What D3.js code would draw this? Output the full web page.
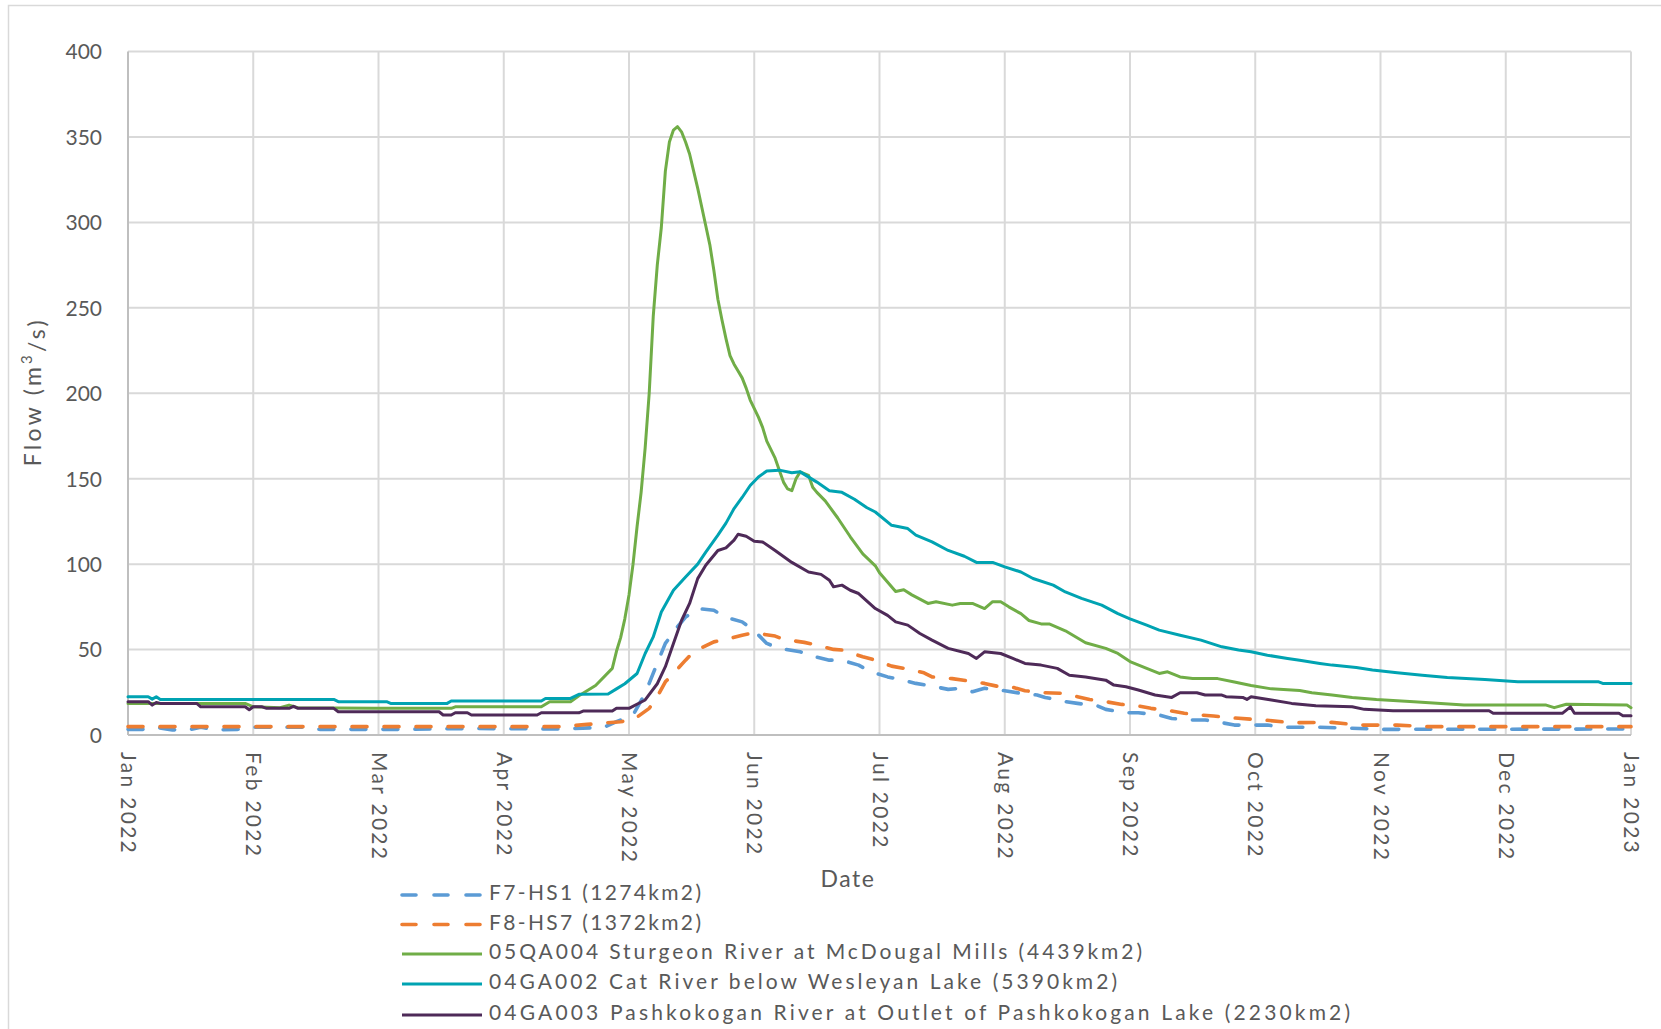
<!DOCTYPE html>
<html>
<head>
<meta charset="utf-8">
<script src="https://cdn.jsdelivr.net/npm/d3@7"></script>
<style>
  html, body { margin: 0; padding: 0; background: #fff; }
  svg { display: block; font-family: Lato, "Open Sans", sans-serif; }
</style>
</head>
<body>
<svg id="chart" width="1661" height="1029"></svg>
<script>
// ---------- DATA ----------
const monthLabels = ["Jan 2022","Feb 2022","Mar 2022","Apr 2022","May 2022","Jun 2022","Jul 2022",
                     "Aug 2022","Sep 2022","Oct 2022","Nov 2022","Dec 2022","Jan 2023"];
const monthStarts = ["2022-01-01","2022-02-01","2022-03-01","2022-04-01","2022-05-01","2022-06-01","2022-07-01",
                     "2022-08-01","2022-09-01","2022-10-01","2022-11-01","2022-12-01","2023-01-01"];
const yTicks = [0, 50, 100, 150, 200, 250, 300, 350, 400];

const seriesNames = [
  "F7-HS1 (1274km2)",
  "F8-HS7 (1372km2)",
  "05QA004 Sturgeon River at McDougal Mills (4439km2)",
  "04GA002 Cat River below Wesleyan Lake (5390km2)",
  "04GA003 Pashkokogan River at Outlet of Pashkokogan Lake (2230km2)"
];

const f7HS1 = [["2022-01-01",3.3],["2022-01-05",3.3],["2022-01-08",4.5],["2022-01-12",3],["2022-01-16",3],["2022-01-19",4.5],["2022-01-23",3],["2022-01-28",3.3],["2022-02-01",4.5],["2022-02-12",4.5],["2022-02-16",3.3],["2022-02-24",3.3],["2022-03-05",3.3],["2022-03-25",3.8],["2022-04-15",3.5],["2022-04-25",4.5],["2022-04-28",7.8],["2022-05-02",11.7],["2022-05-05",24.4],["2022-05-08",42],["2022-05-10",53.6],["2022-05-13",63.3],["2022-05-15",69],["2022-05-18",74],["2022-05-22",73],["2022-05-25",68.8],["2022-05-29",66.2],["2022-06-01",61],["2022-06-04",53.6],["2022-06-07",50.7],["2022-06-12",48.7],["2022-06-14",46.7],["2022-06-19",43.8],["2022-06-22",43.8],["2022-06-26",40.9],["2022-06-29",37],["2022-07-03",34],["2022-07-06",32.5],["2022-07-10",30.2],["2022-07-14",28.6],["2022-07-18",26.7],["2022-07-21",27.3],["2022-07-24",25.3],["2022-07-27",27.3],["2022-08-01",25.9],["2022-08-05",24.4],["2022-08-09",23.4],["2022-08-11",22],["2022-08-16",19.5],["2022-08-19",18.5],["2022-08-24",17],["2022-08-26",15],["2022-08-31",13],["2022-09-03",13],["2022-09-08",11.7],["2022-09-11",9.7],["2022-09-15",8.8],["2022-09-19",8.8],["2022-09-23",7.2],["2022-09-26",5.8],["2022-10-04",5.8],["2022-10-08",4.5],["2022-10-17",4.5],["2022-11-02",3.3],["2022-12-31",3.5],["2023-01-01",3.5]];

const f8HS7 = [["2022-01-01",4.9],["2022-04-15",4.9],["2022-04-21",6.2],["2022-04-29",7.8],["2022-05-02",8.8],["2022-05-06",15.6],["2022-05-08",22.4],["2022-05-10",31.1],["2022-05-12",36],["2022-05-15",43.8],["2022-05-17",48.7],["2022-05-22",54.5],["2022-05-25",55.9],["2022-05-29",58.4],["2022-06-01",59.8],["2022-06-06",57.9],["2022-06-08",56],["2022-06-13",54.2],["2022-06-15",53.2],["2022-06-20",50.1],["2022-06-22",49.7],["2022-06-27",45.8],["2022-06-30",43.8],["2022-07-04",40.3],["2022-07-07",39],["2022-07-12",36.4],["2022-07-14",34],["2022-07-19",33],["2022-07-23",31.7],["2022-07-27",30.2],["2022-07-30",28.6],["2022-08-03",27.9],["2022-08-06",25.9],["2022-08-11",24.7],["2022-08-15",24.4],["2022-08-19",22.4],["2022-08-22",20.8],["2022-08-26",19.5],["2022-08-30",17.9],["2022-09-03",17],["2022-09-06",15.6],["2022-09-11",14],["2022-09-14",12.7],["2022-09-18",11.7],["2022-09-21",11.1],["2022-09-25",10.1],["2022-10-03",8.8],["2022-10-10",7.2],["2022-10-20",7.4],["2022-10-27",5.8],["2022-11-05",5.8],["2022-11-12",4.9],["2023-01-01",4.9]];

const sturgeon05QA004 = [["2022-01-01",18.5],["2022-01-30",18.5],["2022-02-01",16.5],["2022-02-07",16],["2022-02-09",17.5],["2022-02-11",16],["2022-02-28",15.6],["2022-03-19",15.6],["2022-03-20",16.5],["2022-04-10",16.5],["2022-04-12",19.5],["2022-04-17",19.5],["2022-04-19",23],["2022-04-23",29],["2022-04-27",39],["2022-04-28",49],["2022-04-29",57],["2022-04-30",68],["2022-05-01",82],["2022-05-02",100],["2022-05-03",122],["2022-05-04",142],["2022-05-05",168],["2022-05-06",200],["2022-05-07",245],["2022-05-08",275],["2022-05-09",297],["2022-05-10",330],["2022-05-11",347],["2022-05-12",354],["2022-05-13",356],["2022-05-14",353],["2022-05-15",347],["2022-05-16",340],["2022-05-17",330],["2022-05-18",320],["2022-05-19",309],["2022-05-20",298],["2022-05-21",287],["2022-05-22",272],["2022-05-23",255],["2022-05-24",243],["2022-05-25",232],["2022-05-26",222],["2022-05-27",217],["2022-05-28",213],["2022-05-29",209],["2022-05-30",203],["2022-05-31",196],["2022-06-02",186],["2022-06-03",180],["2022-06-04",172],["2022-06-06",162],["2022-06-07",155],["2022-06-08",148],["2022-06-09",144],["2022-06-10",143],["2022-06-11",150],["2022-06-12",154],["2022-06-14",152],["2022-06-15",145],["2022-06-16",142],["2022-06-18",137],["2022-06-21",127],["2022-06-24",116],["2022-06-27",106],["2022-06-30",99],["2022-07-01",95],["2022-07-05",84],["2022-07-07",85],["2022-07-09",82],["2022-07-13",77],["2022-07-15",78],["2022-07-19",76],["2022-07-21",77],["2022-07-24",77],["2022-07-27",74],["2022-07-29",78],["2022-07-31",78],["2022-08-02",75],["2022-08-05",71],["2022-08-07",67],["2022-08-10",65],["2022-08-12",65],["2022-08-16",61],["2022-08-21",54],["2022-08-26",50.7],["2022-08-29",47.7],["2022-09-01",43],["2022-09-05",39],["2022-09-08",36],["2022-09-10",37],["2022-09-13",34],["2022-09-16",33],["2022-09-22",33],["2022-09-26",31],["2022-09-30",29],["2022-10-05",27],["2022-10-12",26],["2022-10-15",24.7],["2022-10-20",23.4],["2022-10-25",22],["2022-10-31",20.8],["2022-11-09",19.5],["2022-11-21",17.5],["2022-12-11",17.5],["2022-12-13",16],["2022-12-16",18],["2022-12-31",17.5],["2023-01-01",16]];

const cat04GA002 = [["2022-01-01",22.4],["2022-01-06",22.4],["2022-01-07",21],["2022-01-08",22.4],["2022-01-09",20.8],["2022-02-19",20.8],["2022-02-20",19.5],["2022-03-03",19.5],["2022-03-04",18.5],["2022-03-18",18.5],["2022-03-19",19.9],["2022-04-10",19.9],["2022-04-11",21.4],["2022-04-17",21.4],["2022-04-19",23.8],["2022-04-26",24],["2022-04-28",27],["2022-04-30",30],["2022-05-03",36],["2022-05-05",47.7],["2022-05-07",57.4],["2022-05-09",72],["2022-05-12",84.7],["2022-05-15",92.5],["2022-05-18",100],["2022-05-20",107],["2022-05-23",117],["2022-05-25",124],["2022-05-27",132.5],["2022-05-29",139],["2022-05-31",146],["2022-06-02",151],["2022-06-04",154.5],["2022-06-07",155],["2022-06-10",153.5],["2022-06-12",154],["2022-06-16",148],["2022-06-19",143],["2022-06-22",142],["2022-06-25",138],["2022-06-28",133],["2022-06-30",130.5],["2022-07-04",122.7],["2022-07-08",120.8],["2022-07-10",117],["2022-07-14",113],["2022-07-18",108],["2022-07-22",104.6],["2022-07-25",101],["2022-07-29",101],["2022-08-01",98.4],["2022-08-05",95.4],["2022-08-08",91.6],["2022-08-13",87.7],["2022-08-16",83.7],["2022-08-20",80],["2022-08-25",76],["2022-08-29",71],["2022-09-01",68],["2022-09-05",64.3],["2022-09-08",61.4],["2022-09-13",58.4],["2022-09-18",55.5],["2022-09-23",51.6],["2022-09-27",49.7],["2022-09-30",48.7],["2022-10-04",46.7],["2022-10-09",44.8],["2022-10-12",43.8],["2022-10-17",41.9],["2022-10-20",40.9],["2022-10-26",39.5],["2022-10-30",38],["2022-11-05",36.4],["2022-11-11",35],["2022-11-17",33.7],["2022-11-26",32.5],["2022-12-04",31.1],["2022-12-24",31.1],["2022-12-25",30.2],["2023-01-01",30.2]];

const pashkokogan04GA003 = [["2022-01-01",19.5],["2022-01-06",19.5],["2022-01-07",17.5],["2022-01-08",19],["2022-01-09",18.5],["2022-01-18",18.5],["2022-01-19",16.5],["2022-01-30",16.5],["2022-01-31",14.8],["2022-02-01",16.5],["2022-02-03",16.5],["2022-02-04",15.6],["2022-02-09",15.6],["2022-02-10",16.8],["2022-02-11",15.6],["2022-02-19",15.6],["2022-02-20",13.6],["2022-03-16",13.6],["2022-03-17",11.7],["2022-03-19",11.7],["2022-03-20",13],["2022-03-23",13],["2022-03-24",11.7],["2022-04-09",11.7],["2022-04-10",13],["2022-04-19",13],["2022-04-20",14],["2022-04-27",14],["2022-04-28",15.6],["2022-05-01",15.6],["2022-05-05",20.5],["2022-05-08",30],["2022-05-10",40],["2022-05-12",53.6],["2022-05-14",67],["2022-05-16",77],["2022-05-18",91.5],["2022-05-20",99.3],["2022-05-23",108],["2022-05-25",109.5],["2022-05-27",114],["2022-05-28",117.5],["2022-05-30",116.3],["2022-06-01",113.4],["2022-06-03",113],["2022-06-06",108],["2022-06-10",101],["2022-06-14",95.4],["2022-06-17",94],["2022-06-19",90.6],["2022-06-20",86.7],["2022-06-22",87.7],["2022-06-24",84.7],["2022-06-26",82.8],["2022-06-30",74],["2022-07-03",70],["2022-07-05",66.2],["2022-07-08",64.3],["2022-07-11",59.4],["2022-07-14",55.5],["2022-07-18",50.7],["2022-07-23",47.7],["2022-07-25",44.8],["2022-07-27",48.7],["2022-07-31",47.7],["2022-08-03",44.8],["2022-08-06",41.9],["2022-08-10",40.9],["2022-08-14",39],["2022-08-17",35],["2022-08-21",34],["2022-08-26",32.1],["2022-08-28",29.2],["2022-08-31",28.2],["2022-09-03",26.3],["2022-09-07",23.4],["2022-09-11",22],["2022-09-13",24.7],["2022-09-17",24.7],["2022-09-19",23.4],["2022-09-23",23.4],["2022-09-24",22.4],["2022-09-28",22],["2022-09-29",20.8],["2022-09-30",22.4],["2022-10-05",20.5],["2022-10-10",18.5],["2022-10-16",17.1],["2022-10-25",16.5],["2022-10-28",15],["2022-11-04",14.2],["2022-11-27",14.2],["2022-11-28",12.7],["2022-12-15",12.7],["2022-12-17",16.5],["2022-12-18",12.7],["2022-12-29",12.7],["2022-12-30",11.3],["2023-01-01",11.3]];

// ---------- CHART ----------
const parse = d3.timeParse("%Y-%m-%d");
const svg = d3.select("#chart");
const plot = { left: 128, right: 1631, top: 51.5, bottom: 735 };

// outer chart border
svg.append("rect").attr("x", 8.5).attr("y", 5.5).attr("width", 1700).attr("height", 1100)
  .attr("fill", "#fff").attr("stroke", "#D9D9D9").attr("stroke-width", 1.5);

// x: months are evenly spaced (piecewise time scale)
const monthDates = monthStarts.map(parse);
const step = (plot.right - plot.left) / (monthDates.length - 1);
const x = d3.scaleTime().domain(monthDates).range(monthDates.map((d, i) => plot.left + i * step));
const y = d3.scaleLinear().domain([0, 400]).range([plot.bottom, plot.top]);

// gridlines
const grid = svg.append("g");
grid.selectAll("line.h").data(yTicks.filter(v => v > 0)).join("line")
  .attr("x1", plot.left).attr("x2", plot.right)
  .attr("y1", d => y(d)).attr("y2", d => y(d))
  .attr("stroke", "#D9D9D9").attr("stroke-width", 2);
grid.selectAll("line.v").data(monthDates.slice(1)).join("line")
  .attr("x1", d => x(d)).attr("x2", d => x(d))
  .attr("y1", plot.top).attr("y2", plot.bottom)
  .attr("stroke", "#D9D9D9").attr("stroke-width", 2);

// axes lines
svg.append("line").attr("x1", plot.left).attr("x2", plot.left).attr("y1", plot.top).attr("y2", plot.bottom)
  .attr("stroke", "#BFBFBF").attr("stroke-width", 2);
svg.append("line").attr("x1", plot.left).attr("x2", plot.right).attr("y1", plot.bottom).attr("y2", plot.bottom)
  .attr("stroke", "#BFBFBF").attr("stroke-width", 2);

// y tick labels
const yAxis = d3.axisLeft(y).tickValues(yTicks).tickSize(0).tickPadding(0);
const gy = svg.append("g").attr("transform", `translate(${plot.left - 26},0)`).call(yAxis);
gy.select(".domain").remove();
gy.selectAll("text").attr("font-size", 21).attr("fill", "#595959")
  .attr("font-family", "Lato, sans-serif").attr("dy", "0.35em");

// x tick labels (rotated)
const xAxis = d3.axisBottom(x).tickValues(monthDates).tickSize(0).tickFormat((d, i) => monthLabels[i]);
const gx = svg.append("g").attr("transform", `translate(0,${plot.bottom})`).call(xAxis);
gx.select(".domain").remove();
gx.selectAll("text")
  .attr("font-size", 21).attr("fill", "#595959").attr("font-family", "Lato, sans-serif")
  .attr("letter-spacing", "2.3px")
  .attr("text-anchor", "start").attr("dy", "0.35em")
  .attr("transform", "translate(0,17) rotate(90)").attr("x", 0).attr("y", 0);

// axis titles
const yTitle = svg.append("text")
  .attr("transform", `translate(35,${(plot.top + plot.bottom) / 2}) rotate(-90)`)
  .attr("text-anchor", "middle").attr("dominant-baseline", "middle")
  .attr("font-size", 23).attr("fill", "#595959")
  .attr("textLength", 146).attr("lengthAdjust", "spacing");
yTitle.append("tspan").text("Flow (m");
yTitle.append("tspan").text("3").attr("font-size", 15).attr("dy", "-0.5em");
yTitle.append("tspan").text("/s)").attr("dy", "0.5em");

svg.append("text").attr("x", 848).attr("y", 881)
  .attr("text-anchor", "middle").attr("dominant-baseline", "middle")
  .attr("font-size", 23).attr("fill", "#595959").attr("letter-spacing", "1.5px").text("Date");

// series
const series = [
  { name: seriesNames[0], data: f7HS1, color: "#5B9BD5", dash: "15 17" },
  { name: seriesNames[1], data: f8HS7, color: "#ED7D31", dash: "15 17" },
  { name: seriesNames[2], data: sturgeon05QA004, color: "#70AD47", dash: null },
  { name: seriesNames[3], data: cat04GA002, color: "#00A3B2", dash: null },
  { name: seriesNames[4], data: pashkokogan04GA003, color: "#4E2A58", dash: null }
];

const line = d3.line().x(d => x(parse(d[0]))).y(d => y(d[1])).curve(d3.curveLinear);
const lines = svg.append("g");
series.forEach(s => {
  lines.append("path").datum(s.data).attr("d", line)
    .attr("fill", "none").attr("stroke", s.color)
    .attr("stroke-width", s.dash ? 3.6 : 3)
    .attr("stroke-linejoin", "round").attr("stroke-linecap", "round")
    .attr("stroke-dasharray", s.dash);
});

// legend
const legendRowsY = [895, 924.5, 954, 984, 1015];
const legendTextLen = [212, 212, 653, 628, 861];
const legend = svg.append("g");
series.forEach((s, i) => {
  const gy0 = legendRowsY[i];
  legend.append("line").attr("x1", 402).attr("x2", 482).attr("y1", gy0).attr("y2", gy0)
    .attr("stroke", s.color).attr("stroke-width", s.dash ? 3.6 : 3)
    .attr("stroke-linecap", s.dash ? "round" : "butt")
    .attr("stroke-dasharray", s.dash ? "14 18" : null);
  legend.append("text").attr("x", 489).attr("y", gy0)
    .attr("dominant-baseline", "middle").attr("font-size", 21).attr("fill", "#595959")
    .attr("textLength", legendTextLen[i]).attr("lengthAdjust", "spacing")
    .text(s.name);
});
</script>
</body>
</html>
